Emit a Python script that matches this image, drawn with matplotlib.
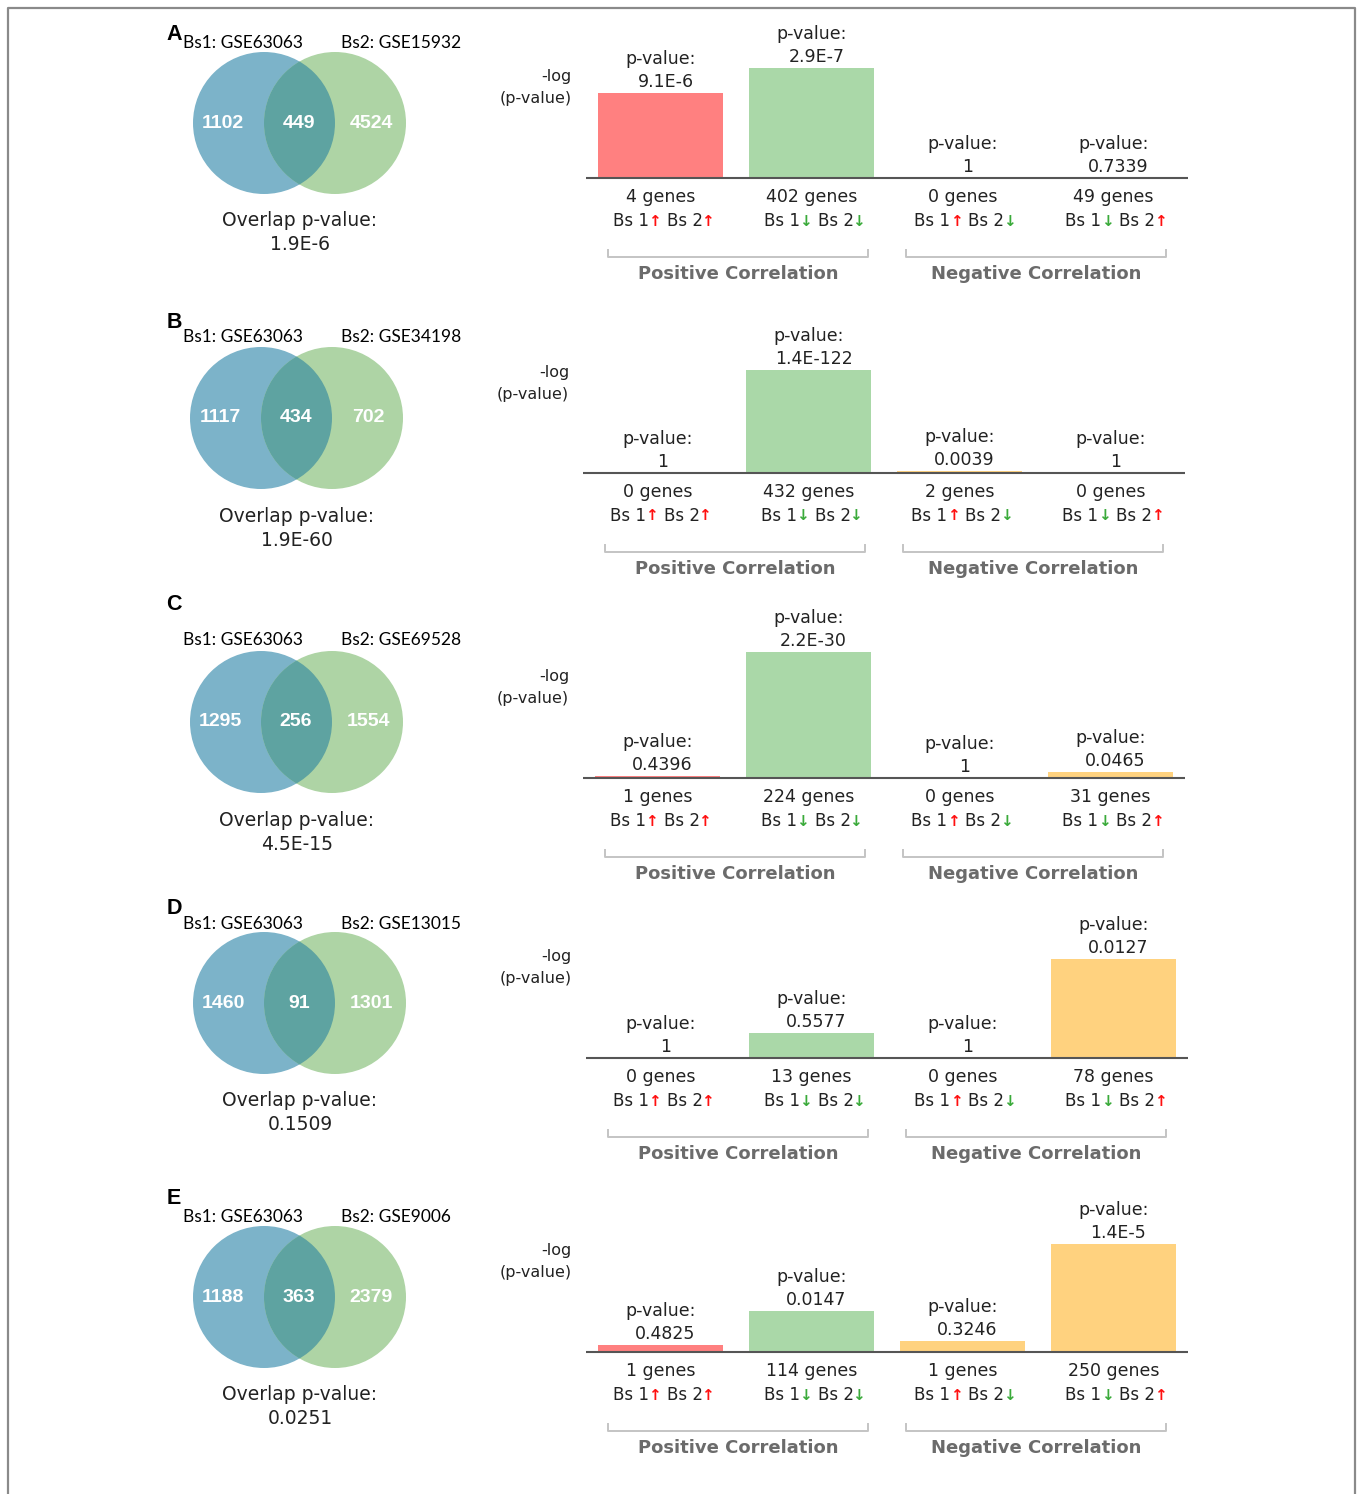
import numpy as np
import matplotlib
matplotlib.use('Agg')
import matplotlib.pyplot as plt
from matplotlib.patches import Circle
from matplotlib.lines import Line2D

W, H = 1358, 1494

# panel data
letters = ['A', 'B', 'C', 'D', 'E']
bs2_sets = ['GSE15932', 'GSE34198', 'GSE69528', 'GSE13015', 'GSE9006']
venn_left = [1102, 1117, 1295, 1460, 1188]
venn_mid = [449, 434, 256, 91, 363]
venn_right = [4524, 702, 1554, 1301, 2379]
overlap_p = ['1.9E-6', '1.9E-60', '4.5E-15', '0.1509', '0.0251']

# bar data: -log10(p) heights
bar_heights = [
    [5.04, 6.54, 0.0, 0.0],
    [0.0, 121.85, 2.41, 0.0],
    [0.36, 29.66, 0.0, 1.33],
    [0.0, 0.48, 0.0, 1.90],
    [0.32, 1.83, 0.49, 4.85],
]
bar_pvals = [
    ['9.1E-6', '2.9E-7', '1', '0.7339'],
    ['1', '1.4E-122', '0.0039', '1'],
    ['0.4396', '2.2E-30', '1', '0.0465'],
    ['1', '0.5577', '1', '0.0127'],
    ['0.4825', '0.0147', '0.3246', '1.4E-5'],
]
bar_genes = [
    [4, 402, 0, 49],
    [0, 432, 2, 0],
    [1, 224, 0, 31],
    [0, 13, 0, 78],
    [1, 114, 1, 250],
]
arrows1 = ['up', 'down', 'up', 'down']
arrows2 = ['up', 'down', 'down', 'up']
bar_colors = ['#ff8080', '#aad8a8', '#ffd27f', '#ffd27f']

# layout (pixels)
baselines = [178, 473, 778, 1058, 1352]
bar_dx = [0, -3, -3, 0, 0]
tallest_px = [110, 103, 126, 99, 108]
venn_cy = [123, 418, 722, 1003, 1297]
venn_dx = [0, -3, -3, 0, 0]
title_y = [43, 337, 640, 924, 1217]
letter_y = [35, 323, 604, 908, 1199]

fig = plt.figure(figsize=(W / 100, H / 100), dpi=100)
bg = fig.add_axes([0, 0, 1, 1])
bg.set_xlim(0, W)
bg.set_ylim(H, 0)
bg.axis('off')

# outer frame
bg.add_line(Line2D([8, 8, 1355, 1355], [H, 8, 8, H], color='#8a8a8a', lw=1.6))

blue, green, teal = '#7cb3c9', '#aed4a5', '#5ea3a1'
txt = '#222222'
up_c, down_c = '#ff1010', '#3aaa3a'
fs = 12.5

for k in range(5):
    dx = venn_dx[k]
    cy = venn_cy[k]
    lx, rx, r = 264 + dx, 335 + dx, 71
    c1 = Circle((lx, cy), r, color=blue, lw=0)
    c2 = Circle((rx, cy), r, color=green, lw=0)
    bg.add_patch(c1)
    bg.add_patch(c2)
    ov = Circle((rx, cy), r, color=teal, lw=0)
    bg.add_patch(ov)
    ov.set_clip_path(c1)
    for xv, val in zip([223, 299, 371], [venn_left[k], venn_mid[k], venn_right[k]]):
        bg.text(xv + dx, cy, str(val), color='white', fontsize=14,
                fontweight='bold', family='Liberation Sans', ha='center', va='center')
    bg.text(183, title_y[k], 'Bs1: GSE63063', family='Lato', fontsize=12.5,
            color='black', ha='left', va='center')
    bg.text(341, title_y[k], 'Bs2: ' + bs2_sets[k], family='Lato', fontsize=12.5,
            color='black', ha='left', va='center')
    bg.text(174, letter_y[k], letters[k], fontsize=15.5, fontweight='bold',
            family='Liberation Sans', ha='center', va='center')
    bg.text(300 + dx, cy + 98, 'Overlap p-value:', fontsize=13.5, color=txt,
            ha='center', va='center')
    bg.text(300 + dx, cy + 122, overlap_p[k], fontsize=13.5, color=txt,
            ha='center', va='center')
    bg.text(572 + bar_dx[k], baselines[k] - 101, '-log', fontsize=11.5, color=txt,
            ha='right', va='center')
    bg.text(572 + bar_dx[k], baselines[k] - 79, '(p-value)', fontsize=11.5, color=txt,
            ha='right', va='center')

    # bar chart
    ax_h = 150
    top = ax_h * max(bar_heights[k]) / tallest_px[k]
    px = top / ax_h  # data units per pixel
    x0 = 586 + bar_dx[k]
    ax = fig.add_axes([x0 / W, 1 - baselines[k] / H, 602 / W, ax_h / H])
    ax.set_xlim(-0.4934, 3.4934)
    ax.set_ylim(0, top)
    ax.axis('off')
    xs = np.arange(4)
    ax.bar(xs, bar_heights[k], width=0.828, color=bar_colors, lw=0)
    ax.plot([-0.4934, 3.4934], [0, 0], color='#555555', lw=1.5, clip_on=False,
            solid_capstyle='butt')
    for i in range(4):
        h = bar_heights[k][i]
        ax.annotate('p-value:', (i, h), xytext=(0, 34), textcoords='offset pixels',
                    ha='center', va='center', fontsize=fs, color=txt)
        ax.annotate(bar_pvals[k][i], (i, h), xytext=(5, 11), textcoords='offset pixels',
                    ha='center', va='center', fontsize=fs, color=txt)
        ax.annotate('%d genes' % bar_genes[k][i], (i, 0), xytext=(0, -19),
                    textcoords='offset pixels', ha='center', va='center',
                    fontsize=fs, color=txt, annotation_clip=False)
        a1 = '↑' if arrows1[i] == 'up' else '↓'
        a2 = '↑' if arrows2[i] == 'up' else '↓'
        ax.annotate('Bs 1', (i, 0), xytext=(-30, -43), textcoords='offset pixels',
                    ha='center', va='center', fontsize=12, color=txt,
                    annotation_clip=False)
        ax.annotate(a1, (i, 0), xytext=(-6, -43), textcoords='offset pixels',
                    ha='center', va='center', fontsize=11, fontweight='bold',
                    color=up_c if a1 == '↑' else down_c, annotation_clip=False)
        ax.annotate('Bs 2', (i, 0), xytext=(24, -43), textcoords='offset pixels',
                    ha='center', va='center', fontsize=12, color=txt,
                    annotation_clip=False)
        ax.annotate(a2, (i, 0), xytext=(47, -43), textcoords='offset pixels',
                    ha='center', va='center', fontsize=11, fontweight='bold',
                    color=up_c if a2 == '↑' else down_c, annotation_clip=False)

    # correlation brackets
    for (xa, xb), label in zip([(-0.348, 1.374), (1.626, 3.348)],
                               ['Positive Correlation', 'Negative Correlation']):
        ax.plot([xa, xa, xb, xb], [-72 * px, -79 * px, -79 * px, -72 * px],
                color='#c4c4c4', lw=1.4, clip_on=False)
        ax.text((xa + xb) / 2, -96 * px, label, ha='center', va='center',
                fontsize=13, fontweight='bold', color='#6b6b6b', clip_on=False)

fig.savefig('out.png', dpi=100)
